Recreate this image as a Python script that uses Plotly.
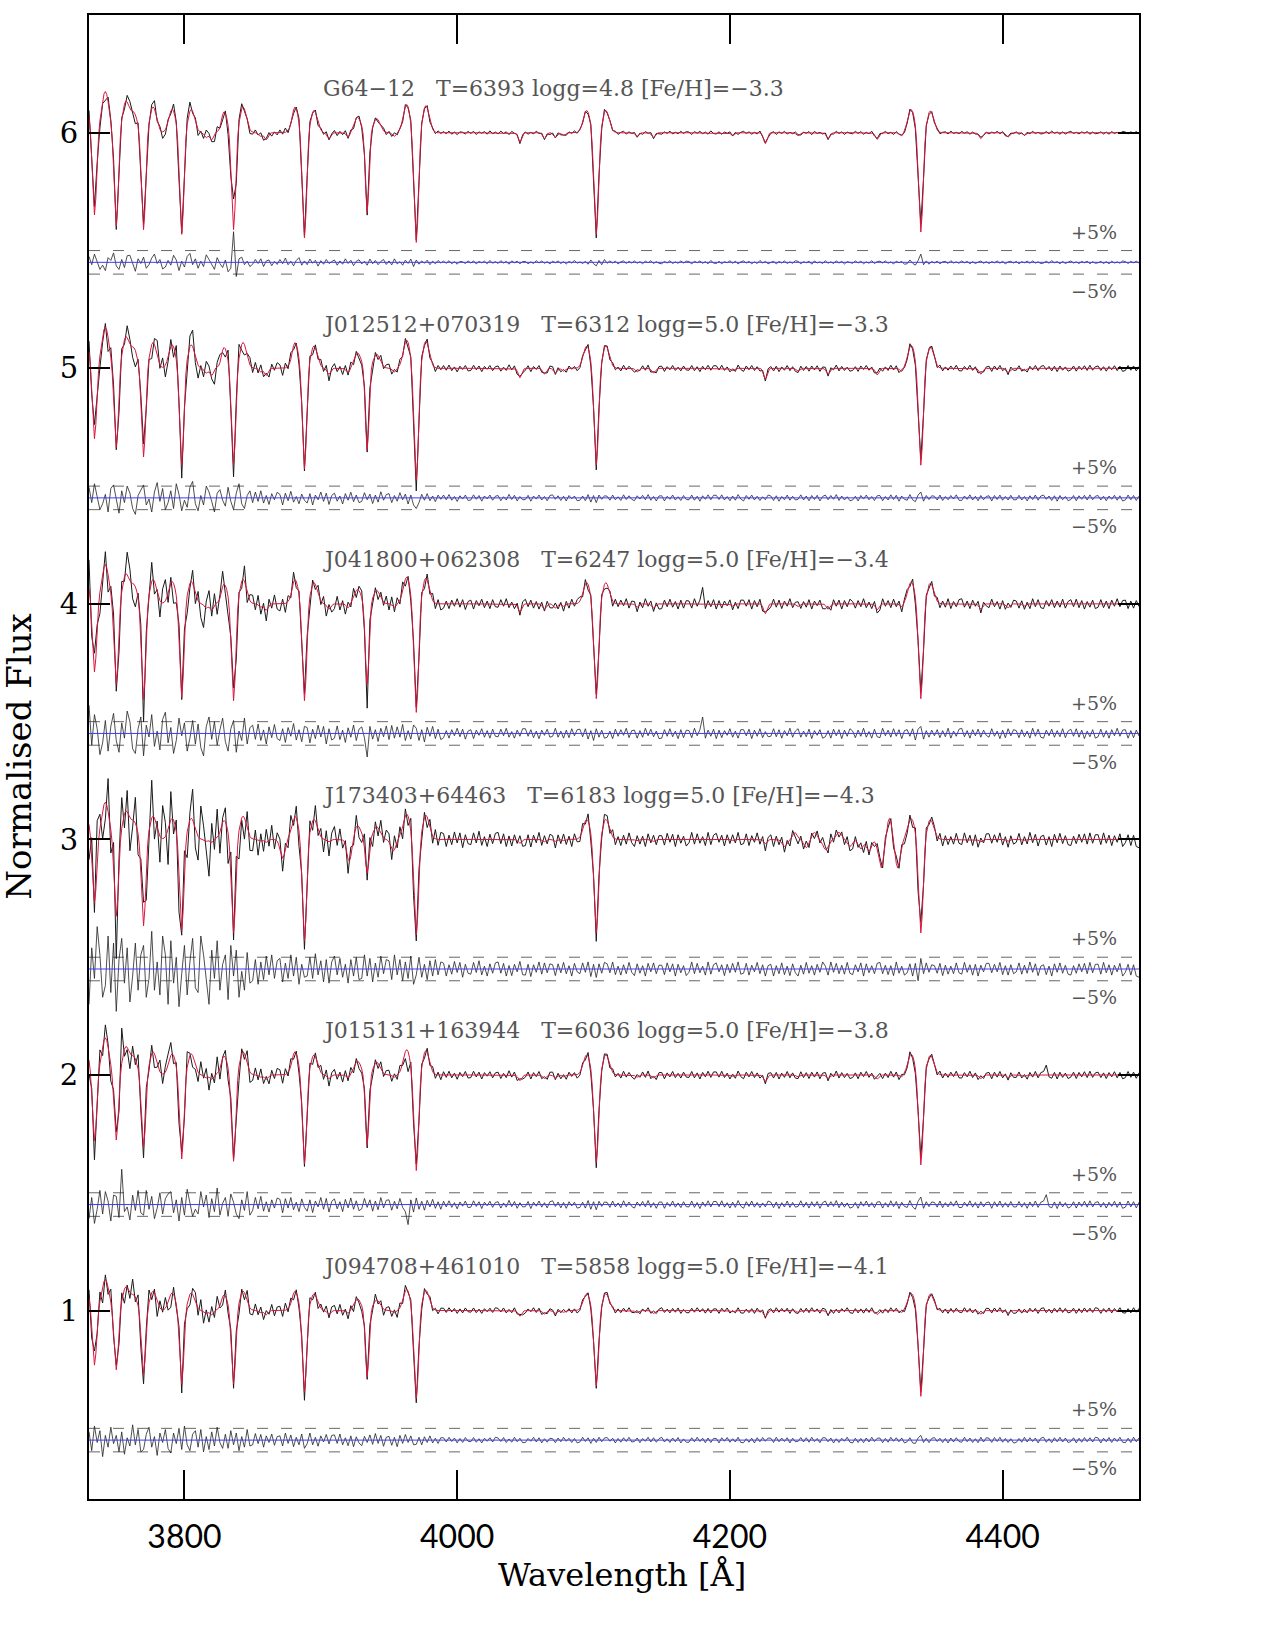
import numpy as np
import plotly.graph_objects as go

# ---------------- data ----------------
STAR_NAMES = ["G64\u221212", "J012512+070319", "J041800+062308",
              "J173403+64463", "J015131+163944", "J094708+461010"]
T_EFF = [6393, 6312, 6247, 6183, 6036, 5858]
LOGG = ["4.8", "5.0", "5.0", "5.0", "5.0", "5.0"]
FEH = ["\u22123.3", "\u22123.3", "\u22123.4", "\u22124.3", "\u22123.8", "\u22124.1"]
OFFSETS = [6, 5, 4, 3, 2, 1]
RESID_BASE = [5.45, 4.45, 3.45, 2.45, 1.45, 0.45]

X_TICKS = [3800, 4000, 4200, 4400]
Y_TICKS = [1, 2, 3, 4, 5, 6]

# strong lines: H14, H13, H12, H11, H10, H9, H8, Ca II K, H-eps, H-delta, H-gamma
LINE_WL = [3722, 3734, 3750, 3770, 3798, 3836, 3888, 3934, 3970, 4102, 4340]
LINE_SIG = [1.6, 1.5, 1.5, 1.5, 1.5, 1.5, 1.5, 1.3, 1.6, 1.6, 1.6]
LINE_DEPTH = [
    [0.30, 0.36, 0.40, 0.415, 0.435, 0.415, 0.45, 0.34, 0.47, 0.435, 0.425],
    [0.28, 0.31, 0.34, 0.38, 0.415, 0.415, 0.43, 0.35, 0.48, 0.415, 0.415],
    [0.26, 0.30, 0.345, 0.41, 0.40, 0.415, 0.415, 0.345, 0.465, 0.406, 0.406],
    [0.25, 0.28, 0.33, 0.37, 0.39, 0.40, 0.435, 0.145, 0.41, 0.40, 0.40],
    [0.25, 0.29, 0.28, 0.31, 0.36, 0.37, 0.38, 0.30, 0.41, 0.375, 0.385],
    [0.20, 0.24, 0.255, 0.274, 0.313, 0.313, 0.349, 0.284, 0.377, 0.323, 0.367],
]
SHOULDER_L = [0.00, 0.05, 0.09, 0.08, 0.10, 0.09, 0.11, 0.065, 0.12, 0.095, 0.098]
SHOULDER_R = [0.06, 0.10, 0.13, 0.11, 0.10, 0.11, 0.095, 0.06, 0.115, 0.095, 0.093]
SHOULDER_SCALE = [1.0, 1.0, 0.95, 0.9, 0.9, 0.75]

METAL_WL = [3816, 3820, 3826, 3856, 3860, 3878, 3906, 3920, 3954, 4046, 4064, 4072,
            4078, 4132, 4144, 4202, 4226, 4250, 4272, 4308, 4326, 4384, 4404, 4416]
METAL_DEPTH = [0.02, 0.03, 0.02, 0.015, 0.03, 0.015, 0.025, 0.02, 0.015, 0.04, 0.025, 0.02,
               0.012, 0.015, 0.02, 0.01, 0.046, 0.012, 0.025, 0.028, 0.015, 0.025, 0.018, 0.01]
METAL_SCALE = [1.0, 1.0, 0.9, 0.4, 0.6, 0.6]

# extra features of J173403+64463 (negative depth = bump)
EXTRA_WL = [3872, 3921, 3953, 4240, 4248, 4256, 4262, 4270, 4280, 4288, 4296, 4302, 4311, 4317, 4323]
EXTRA_DEPTH = [0.08, 0.09, 0.045, 0.03, -0.03, 0.035, -0.03, 0.04, -0.03, 0.03, 0.04, 0.05, 0.12, -0.09, 0.12]

# residuals (observed - model) in units of 0.001, every 2 A from 3730 A
RESID_G6412 = [
    25,-10,35,5,-30,-12,-35,20,8,40,
    -15,-30,12,-22,28,30,-8,-38,15,-5,
    22,-25,-10,18,35,-5,12,-28,-20,8,
    -12,30,10,-35,5,-20,25,38,-10,15,
    -25,5,-18,32,12,-8,-30,20,-5,-22,
    10,-40,-25,130,-60,15,22,-10,5,-18,
    -8,12,-5,15,-18,6,10,-14,4,-9,
    12,-6,18,-10,5,-15,8,20,-12,6,
    -10,14,-4,9,-16,7,-8,12,-5,3,
    10,-12,6,-8,15,-5,9,-14,4,11,
    -7,5,-12,14,-6,8,-10,4,12,-9,
    6,-11,15,-7,3,-12,9,-5,14,-18,
    10,-8,6,-4,9,-10,5,-6,8,-3,
    5,-4,7,-6,3,-8,4,2,-5,6,
    -3,6,-7,4,-2,5,-6,8,-4,3,
    -5,7,-3,4,-8,6,-2,5,-6,3,
    4,-6,2,-5,7,-3,6,-4,3,-7,
    5,-2,6,-5,3,-7,4,-3,8,-4,
    2,-5,4,-8,10,-6,-15,8,-10,12,
    -4,6,-3,5,-7,2,6,-5,4,-3,
    6,-4,3,-6,5,-2,7,-5,3,-4,
    -6,4,-3,7,-5,2,-4,6,-3,5,
    3,-7,5,-2,6,-4,3,-6,8,-3,
    -5,4,-6,3,-2,7,-4,5,-7,2,
    6,-3,4,-6,2,-5,8,-3,4,-6,
    -2,5,-7,4,-3,6,-5,2,-4,7,
    4,-6,3,-2,5,-8,6,-3,2,-5,
    7,-4,2,-5,6,-3,4,-7,3,-2,
    -4,6,-3,5,-6,2,-4,7,-5,3,
    5,-3,6,-4,2,-7,5,-2,4,-8,
    -6,10,-4,-12,8,35,-10,6,-8,4,
    -3,5,-6,2,4,-5,7,-3,2,-4,
    6,-2,4,-6,3,-5,2,6,-4,3,
    -5,3,-2,6,-4,5,-7,2,4,-3,
    4,-6,3,-2,5,-4,6,-3,2,-5,
    -3,5,-4,7,-2,3,-6,4,-5,2,
    6,-3,2,-5,4,-2,5,-6,3,-4,
    -2,4,-5,3,-6,5,-3,2,-4,6,
    3,-5,4,-2,5,-3,2,-4,6,-3,
]
RESID_J0125 = [
    45,-20,60,10,-50,-25,15,-60,40,55,
    -10,-65,30,-20,50,20,-45,-70,10,35,
    55,-30,-5,-60,25,65,-15,40,-50,-20,
    30,-45,60,15,-55,-10,-40,45,70,-25,
    -55,10,-30,50,25,-15,-60,20,35,-10,
    -35,45,-15,-50,20,60,-25,-45,10,30,
    -20,25,-15,30,-22,10,-28,18,-8,24,
    15,-30,20,-12,28,-18,6,-25,16,-10,
    -22,18,-30,12,-8,25,-15,20,-28,10,
    20,-14,8,-26,18,-10,24,-16,12,-20,
    -15,22,-8,16,-24,12,-18,26,-10,14,
    18,-20,10,-14,22,-8,16,-26,12,-30,
    -45,-20,15,-10,18,-12,8,-16,12,-6,
    12,-8,14,-10,6,-15,9,-5,12,-11,
    -9,13,-6,10,-14,8,-4,12,-10,7,
    10,-12,5,-9,15,-7,11,-13,6,-8,
    -7,11,-14,8,-5,12,-9,6,-12,10,
    13,-6,9,-11,7,-13,10,-4,8,-12,
    -10,8,-12,14,-18,10,-20,12,-6,9,
    7,-10,12,-8,5,-11,13,-7,9,-6,
    -12,9,-5,11,-8,14,-10,6,-13,8,
    9,-13,7,-6,12,-9,5,-11,10,-7,
    -8,12,-10,7,-14,9,-6,13,-8,11,
    11,-7,13,-9,6,-12,8,-10,14,-5,
    -13,10,-6,12,-9,7,-11,5,-8,12,
    8,-11,9,-14,6,-8,12,-10,7,-9,
    -6,13,-9,8,-12,10,-7,11,-13,6,
    12,-8,10,-6,14,-11,8,-9,5,-12,
    -9,7,-13,10,-5,12,-8,6,-11,9,
    10,-12,6,-9,13,-7,11,-14,8,-6,
    -10,14,-8,-16,12,25,-14,10,-7,9,
    7,-9,12,-11,6,-8,10,-5,13,-10,
    -11,8,-6,13,-9,7,-12,10,-8,6,
    9,-13,10,-7,12,-10,6,-9,11,-8,
    -8,11,-9,6,-13,9,-7,12,-10,8,
    12,-6,8,-11,9,-14,10,-8,6,-12,
    -7,10,-12,9,-6,11,-9,13,-8,7,
    10,-9,7,-12,8,-6,11,-10,9,-13,
    -9,12,-8,10,-11,7,-6,12,-9,8,
]
RESID_J0418 = [
    120,-50,80,20,-90,-40,55,-75,30,85,
    -30,-80,45,-20,95,50,-65,-85,20,70,
    -95,35,-15,80,-55,10,-70,60,90,-40,
    25,-85,-30,65,-10,45,-75,-20,55,-45,
    40,-60,-95,30,70,-25,50,-50,15,65,
    -35,-75,20,55,-80,10,-30,65,-45,25,
    35,-25,40,-30,15,-45,28,-18,38,-22,
    -30,20,-38,25,-12,42,-28,16,-35,30,
    25,-40,18,-22,35,-15,30,-45,20,-28,
    -20,32,-26,14,-38,24,-16,36,-30,18,
    28,-18,-100,30,-24,16,-34,22,-14,32,
    -26,34,-20,28,-16,38,-30,12,-24,36,
    22,-30,16,-36,26,-12,30,-22,18,-26,
    -18,12,-20,16,-10,22,-14,18,-24,10,
    16,-22,14,-8,20,-16,12,-20,18,-12,
    -14,18,-10,22,-16,8,-20,14,-12,20,
    20,-12,16,-18,10,-22,14,-8,18,-16,
    -12,22,-16,10,-20,14,-18,20,-10,16,
    18,-14,20,-24,12,-30,20,-16,14,-20,
    -16,10,-22,18,-12,16,-8,22,-18,12,
    14,-20,12,-16,22,-10,18,-14,10,-22,
    -20,16,-12,20,-14,10,-22,16,-18,14,
    12,-18,22,-10,16,70,-20,14,-12,18,
    -22,14,-18,12,-8,20,-16,10,-20,16,
    16,-10,18,-22,14,-12,20,-18,8,-14,
    -12,20,-14,16,-20,12,-10,22,-16,10,
    20,-16,10,-14,18,-22,12,-8,16,-20,
    -14,12,-20,18,-10,16,-22,14,-12,20,
    10,-18,14,-12,22,-16,8,-20,18,-14,
    -18,22,-10,14,-16,20,-12,16,-22,12,
    16,-12,20,-28,18,30,-24,12,-16,14,
    -10,16,-18,12,-14,22,-20,10,-12,18,
    22,-14,12,-20,16,-10,18,-16,14,-8,
    -16,20,-12,10,-22,14,-18,20,-10,16,
    12,-18,16,-14,10,-20,22,-12,18,-16,
    -20,14,-10,18,-16,12,-14,20,-18,10,
    18,-12,20,-16,14,-22,10,-14,16,-20,
    -14,18,-16,12,-20,16,-10,22,-12,14,
    16,-20,12,-18,14,-10,20,-16,12,-18,
]
RESID_J1734 = [
    -150,90,-40,180,60,-120,-70,140,-100,110,
    -180,40,130,-60,90,-140,-30,110,-90,60,
    100,-120,-40,160,-90,30,-110,140,60,-150,
    120,-60,50,-160,-20,100,-110,30,130,-80,
    -100,140,60,-50,-150,80,-40,120,-90,20,
    60,-130,100,-30,80,-120,-10,-90,70,-60,
    -50,40,-65,30,-45,55,-25,60,-40,35,
    45,-55,25,-40,60,-30,50,-65,20,-35,
    -30,50,-40,65,-25,35,-55,40,-60,30,
    55,-25,45,-35,20,-60,40,-30,50,-45,
    -40,60,-30,45,-55,25,-35,55,-20,40,
    35,-45,60,-25,40,-50,30,-40,55,-65,
    -25,50,-35,20,-45,35,-30,40,-25,30,
    25,-30,18,-22,32,-15,28,-35,20,-18,
    -22,28,-15,35,-25,12,-30,22,-18,26,
    30,-18,24,-30,15,-28,20,-12,32,-24,
    -26,20,-32,18,-14,30,-22,26,-16,22,
    18,-28,22,-16,28,-20,14,-30,24,-12,
    -20,26,-14,30,-32,20,-36,22,-18,28,
    22,-16,30,-24,12,-26,18,-20,28,-14,
    -28,22,-18,14,-30,24,-12,26,-20,16,
    16,-24,26,-12,22,-30,20,-16,14,-28,
    -14,30,-20,24,-16,12,-26,30,-22,18,
    26,-12,18,-28,20,-16,24,-14,30,-22,
    -18,24,-26,16,-12,28,-20,18,-30,14,
    20,-30,14,-20,26,-24,12,-28,22,-16,
    -30,16,-22,28,-18,14,-26,20,-14,30,
    12,-26,30,-14,24,-20,16,-22,28,-18,
    -24,18,-12,26,-30,22,-16,14,-20,24,
    28,-20,16,-24,14,-28,30,-18,12,-26,
    -16,22,-30,24,-50,45,-20,26,-14,18,
    14,-18,24,-28,16,-22,12,-20,26,-16,
    -22,28,-14,18,-26,20,-30,16,-12,24,
    24,-16,20,-12,28,-24,14,-26,18,-20,
    -12,26,-22,16,-18,30,-14,22,-28,12,
    18,-24,12,-30,22,-14,26,-18,16,-22,
    -26,14,-18,22,-12,24,-20,28,-16,20,
    20,-22,28,-16,18,-26,16,-12,24,-30,
    -14,20,-26,18,-30,-35,-28,20,-18,-40,
]
RESID_J0151 = [
    -60,30,-80,-20,60,-40,55,15,-70,40,
    35,-55,150,-30,-10,-65,40,-25,60,-35,
    -45,60,-20,35,-60,-15,50,-40,25,45,
    55,-35,20,-70,30,-45,65,10,-50,-20,
    -40,55,-10,40,-55,25,-30,70,-45,5,
    30,-50,45,10,-40,-60,20,-25,55,-45,
    -25,30,-18,35,-28,12,-32,20,-15,28,
    22,-35,25,-15,30,-22,10,-30,24,-12,
    -28,20,-34,15,-10,30,-20,26,-32,14,
    24,-18,12,-30,22,-14,28,-20,16,-26,
    -18,26,-12,20,-28,15,-22,30,-14,18,
    20,-24,14,-18,26,-12,-30,-85,20,-32,
    28,-20,14,-24,18,-10,22,-16,12,-20,
    14,-10,16,-12,8,-18,11,-7,15,-13,
    -11,16,-8,12,-17,10,-5,14,-12,9,
    12,-15,7,-11,18,-9,13,-16,8,-10,
    -9,13,-17,10,-7,15,-11,8,-14,12,
    16,-8,11,-14,9,-16,12,-6,10,-15,
    -12,10,-15,17,-20,12,-22,14,-8,11,
    9,-12,15,-10,7,-13,16,-9,11,-8,
    -15,11,-7,13,-10,17,-12,8,-16,10,
    11,-16,9,-8,15,-11,7,-13,12,-9,
    -10,15,-12,9,-17,11,-8,16,-10,13,
    13,-9,16,-11,8,-15,10,-12,17,-7,
    -16,12,-8,15,-11,9,-13,7,-10,15,
    10,-13,11,-17,8,-10,15,-12,9,-11,
    -8,16,-11,10,-15,12,-9,13,-16,8,
    15,-10,12,-8,17,-13,10,-11,7,-15,
    -11,9,-16,12,-7,15,-10,8,-13,11,
    12,-15,8,-11,16,-9,13,-17,10,-8,
    -12,17,-10,-20,14,32,-16,12,-9,11,
    9,-11,15,-13,8,-10,12,-7,16,-12,
    -13,10,-8,16,-11,9,-15,12,-10,8,
    11,-16,12,-9,15,-12,8,-11,13,-10,
    -10,13,-11,8,-16,11,-9,15,-12,10,
    15,42,-8,-14,11,-17,12,-10,8,-15,
    -9,12,-15,11,-8,14,-11,16,-10,9,
    12,-11,9,-15,10,-8,14,-12,11,-16,
    -11,15,-10,12,-14,9,-8,15,-11,10,
]
RESID_J0947 = [
    35,-45,60,-10,40,-70,20,-30,55,-15,
    20,-50,35,-60,10,-25,65,-20,45,-50,
    -40,25,55,-30,15,-65,30,-10,45,-35,
    -55,30,-15,50,-40,60,-20,-45,25,40,
    -30,45,-50,15,-40,35,-25,55,-10,-35,
    25,-35,40,-20,30,-45,15,-30,45,-25,
    -20,28,-15,24,-30,18,-10,26,-22,15,
    18,-25,30,-14,22,-28,12,-20,26,-35,
    -15,30,-20,12,-26,18,-8,24,-16,20,
    22,-14,26,-20,10,-24,18,-28,14,-12,
    -24,16,-10,22,-18,28,-14,20,-26,12,
    16,-22,12,-28,20,-14,24,-10,18,-20,
    -18,12,-20,14,-10,18,-12,8,-14,10,
    10,-8,12,-6,9,-12,7,-10,11,-5,
    -7,11,-9,6,-12,8,-5,10,-8,12,
    9,-6,11,-10,5,-9,12,-7,8,-11,
    -10,7,-5,12,-8,10,-12,6,-9,8,
    6,-11,9,-7,12,-5,8,-10,7,-12,
    -8,12,-6,10,-14,8,-10,12,-7,9,
    11,-5,8,-12,7,-9,10,-6,12,-8,
    -6,9,-11,7,-5,12,-8,10,-9,6,
    12,-8,6,-10,9,-7,11,-12,5,-9,
    -9,10,-7,12,-6,8,-11,9,-10,7,
    7,-12,10,-5,11,-9,6,-8,12,-10,
    -11,6,-9,8,-12,10,-7,11,-5,9,
    8,-10,12,-7,9,-6,10,-12,8,-7,
    -5,11,-8,10,-9,12,-6,7,-11,10,
    10,-7,9,-12,6,-10,8,-5,12,-9,
    -12,8,-10,7,-11,9,-8,12,-6,8,
    9,-11,7,-9,12,-5,10,-7,9,-12,
    -7,10,-12,-14,9,20,-10,8,-11,7,
    11,-6,8,-10,7,-12,9,-8,10,-6,
    -9,12,-7,9,-10,6,-11,12,-8,10,
    8,-10,11,-6,12,-9,7,-10,6,-12,
    -10,7,-9,12,-8,10,-6,9,-12,8,
    12,-9,6,-11,10,-7,12,-8,9,-10,
    -6,10,-12,8,-9,11,-7,10,-8,12,
    9,-12,8,-7,11,-10,9,-6,12,-9,
    -11,8,-10,12,-7,9,-11,8,-10,7,
]
RESIDUALS = [RESID_G6412, RESID_J0125, RESID_J0418, RESID_J1734, RESID_J0151, RESID_J0947]

WL_START, WL_STEP = 3730.0, 2.0
X_RANGE = [3730, 4500]
Y_RANGE = [0.2, 6.5]


# ---------------- model ----------------
def model_flux(wl, k):
    f = np.ones_like(wl)
    sc = SHOULDER_SCALE[k]
    for c, s, d, hl, hr in zip(LINE_WL, LINE_SIG, LINE_DEPTH[k], SHOULDER_L, SHOULDER_R):
        f -= d * np.exp(-0.5 * ((wl - c) / s) ** 2)
        f += sc * hl * np.exp(-0.5 * ((wl - (c - 7.0)) / 2.5) ** 2)
        f += sc * hr * np.exp(-0.5 * ((wl - (c + 7.0)) / 2.5) ** 2)
    for c, d in zip(METAL_WL, METAL_DEPTH):
        f -= METAL_SCALE[k] * d * np.exp(-0.5 * ((wl - c) / 1.3) ** 2)
    if k == 3:
        for c, d in zip(EXTRA_WL, EXTRA_DEPTH):
            f -= d * np.exp(-0.5 * ((wl - c) / 1.8) ** 2)
    return f


fig = go.Figure()
wl_fine = np.arange(3730.0, 4500.5, 1.0)
GAP = "\u00a0\u00a0\u00a0"
LABEL_FONT = dict(family="DejaVu Serif", size=22, color="#555555")
PCT_FONT = dict(family="DejaVu Serif", size=19, color="#555555")

for k in range(6):
    off = OFFSETS[k]
    res = np.array(RESIDUALS[k], dtype=float) / 1000.0
    wl_obs = WL_START + WL_STEP * np.arange(len(res))
    obs = model_flux(wl_obs, k) + res
    mod = model_flux(wl_fine, k)
    base = RESID_BASE[k]

    # dashed +-5% lines
    for dy in (0.05, -0.05):
        fig.add_trace(go.Scatter(x=X_RANGE, y=[base + dy, base + dy], mode="lines",
                                 line=dict(color="#666666", width=1, dash="11px,13px"),
                                 hoverinfo="skip", showlegend=False))
    # residuals
    fig.add_trace(go.Scatter(x=wl_obs, y=base + res, mode="lines",
                             line=dict(color="#222222", width=0.8),
                             showlegend=False))
    fig.add_trace(go.Scatter(x=X_RANGE, y=[base, base], mode="lines",
                             line=dict(color="#3a3aff", width=1),
                             hoverinfo="skip", showlegend=False))
    # observed
    fig.add_trace(go.Scatter(x=wl_obs, y=obs - 1 + off, mode="lines",
                             line=dict(color="#1a1a1a", width=1),
                             showlegend=False))
    # model
    fig.add_trace(go.Scatter(x=wl_fine, y=mod - 1 + off, mode="lines",
                             line=dict(color="#dc143c", width=1),
                             showlegend=False))

    label = (f"{STAR_NAMES[k]}{GAP}T={T_EFF[k]} logg={LOGG[k]} "
             f"[Fe/H]={FEH[k]}")
    fig.add_annotation(x=3900, y=off + 0.187, text=label, showarrow=False,
                       xanchor="left", yanchor="middle", font=LABEL_FONT)
    fig.add_annotation(x=4485, y=base + 0.13, text="+5%", showarrow=False,
                       xanchor="right", yanchor="middle", font=PCT_FONT)
    fig.add_annotation(x=4485, y=base - 0.12, text="\u22125%", showarrow=False,
                       xanchor="right", yanchor="middle", font=PCT_FONT)

fig.add_annotation(xref="paper", yref="paper", x=0.508, y=-0.0512,
                   text="Wavelength [Å]", showarrow=False,
                   xanchor="center", yanchor="middle",
                   font=dict(family="DejaVu Serif", size=32, color="black"))
fig.add_annotation(xref="paper", yref="paper", x=-0.067, y=0.5,
                   text="Normalised Flux", showarrow=False, textangle=-90,
                   xanchor="center", yanchor="middle",
                   font=dict(family="DejaVu Serif", size=34, color="black"))

fig.update_xaxes(range=X_RANGE, tickvals=X_TICKS, ticktext=[str(v) for v in X_TICKS],
                 ticks="inside", ticklen=29, tickwidth=1.5, tickcolor="black",
                 mirror="ticks", showline=True, linewidth=2, linecolor="black",
                 showgrid=False, zeroline=False, ticklabelstandoff=9,
                 tickfont=dict(family="Lato", size=32, color="black"))
fig.update_yaxes(range=Y_RANGE, tickvals=Y_TICKS, ticktext=[str(v) for v in Y_TICKS],
                 ticks="inside", ticklen=21, tickwidth=1.5, tickcolor="black",
                 mirror="ticks", showline=True, linewidth=2, linecolor="black",
                 showgrid=False, zeroline=False, ticklabelstandoff=3,
                 tickfont=dict(family="DejaVu Serif", size=29, color="black"))
fig.update_layout(width=1275, height=1650,
                  margin=dict(l=89, r=136, t=15, b=151),
                  paper_bgcolor="white", plot_bgcolor="white", showlegend=False)

fig.write_html("out.html")
